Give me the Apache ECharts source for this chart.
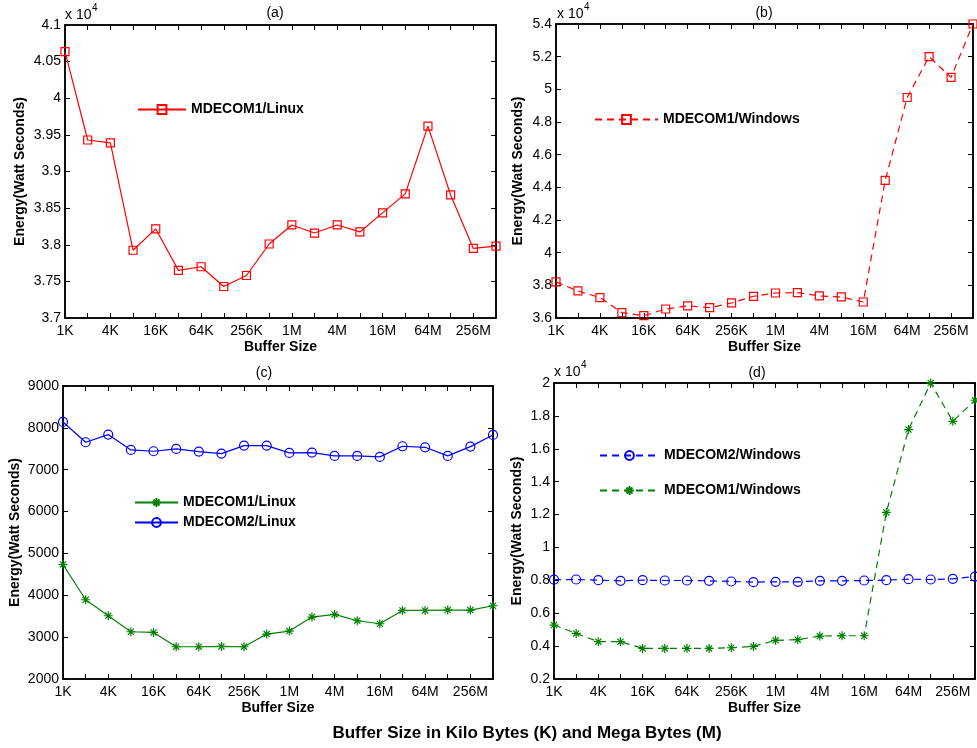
<!DOCTYPE html>
<html>
<head>
<meta charset="utf-8">
<script src="https://cdn.jsdelivr.net/npm/echarts@6/dist/echarts.min.js"></script>
<style>
html,body{margin:0;padding:0;background:#fff;}
#c{width:977px;height:748px;}
</style>
</head>
<body>
<div id="c"></div>
<script>
const categories = ['1K','2K','4K','8K','16K','32K','64K','128K','256K','512K','1M','2M','4M','8M','16M','32M','64M','128M','256M','512M'];

// (a) MDECOM1/Linux (Watt seconds)
const linuxM1a = [40636, 39430, 39390, 37925, 38216, 37650, 37700, 37430, 37580, 38010, 38270, 38160, 38270, 38175, 38435, 38695, 39620, 38680, 37950, 37980];
// (b) MDECOM1/Windows
const winM1b = [38210, 37655, 37250, 36330, 36140, 36550, 36740, 36630, 36920, 37330, 37530, 37550, 37350, 37290, 36980, 44420, 49500, 52000, 50730, 54000];
// (c) Linux
const linuxM1c = [4736, 3893, 3511, 3129, 3113, 2771, 2771, 2779, 2771, 3074, 3145, 3479, 3543, 3392, 3320, 3638, 3638, 3646, 3646, 3750];
const linuxM2c = [8141, 7656, 7839, 7473, 7441, 7497, 7433, 7385, 7576, 7576, 7401, 7409, 7330, 7330, 7306, 7560, 7536, 7330, 7552, 7830];
// (d) Windows
const winM2d = [8047, 8050, 8010, 7970, 8010, 7990, 7990, 7970, 7930, 7890, 7910, 7910, 7970, 7970, 7990, 8010, 8070, 8050, 8090, 8230];
const winM1d = [5280, 4770, 4270, 4270, 3860, 3860, 3860, 3860, 3900, 3980, 4350, 4390, 4610, 4630, 4630, 12130, 17170, 20000, 17670, 18950];

// y-axis ranges per panel
const yMin = [37000, 36000, 2000, 2000];
const yMax = [41000, 54000, 9000, 20000];
const yStep = [500, 2000, 1000, 2000];
const yScaled = [true, true, false, true];
const panelTitles = ['(a)', '(b)', '(c)', '(d)'];
const xName = 'Buffer Size';
const yName = 'Energy(Watt Seconds)';
const bottomTitle = 'Buffer Size in Kilo Bytes (K) and Mega Bytes (M)';

const FONT = '"Liberation Sans", Arial, sans-serif';
const RED = '#ff0000', BLUE = '#0000ff', GREEN = '#008000';
const STAR = 'path://M5 0L5 10M0 5L10 5M1.6 1.6L8.4 8.4M8.4 1.6L1.6 8.4';

const grids = [
  {left: 65, top: 25, width: 431, height: 293},
  {left: 556, top: 24, width: 417, height: 294},
  {left: 63, top: 386, width: 430, height: 293},
  {left: 554, top: 383, width: 421, height: 296}
];
const yNameGap = [38, 31, 41, 30];

const xAxes = [], yAxes = [];
grids.forEach((g, i) => {
  xAxes.push({
    type: 'category', gridIndex: i, data: categories, boundaryGap: false, position: 'bottom',
    axisLine: {show: true, lineStyle: {color: '#000', width: 1.5}},
    axisTick: {show: true, inside: true, length: 5, interval: 0, lineStyle: {color: '#000'}},
    axisLabel: {interval: 1, color: '#000', fontSize: 14, fontFamily: FONT, margin: 6},
    splitLine: {show: false},
    name: xName, nameLocation: 'middle', nameGap: 22,
    nameTextStyle: {color: '#000', fontSize: 14, fontWeight: 'bold', fontFamily: FONT}
  });
  xAxes.push({
    type: 'category', gridIndex: i, data: categories, boundaryGap: false, position: 'top',
    axisLine: {show: true, lineStyle: {color: '#000', width: 1.5}},
    axisTick: {show: true, inside: true, length: 5, interval: 0, lineStyle: {color: '#000'}},
    axisLabel: {show: false}, splitLine: {show: false}
  });
  const fmt = yScaled[i] ? (v => String(parseFloat((v / 1e4).toFixed(3)))) : (v => String(v));
  yAxes.push({
    type: 'value', gridIndex: i, min: yMin[i], max: yMax[i], interval: yStep[i], position: 'left',
    axisLine: {show: true, lineStyle: {color: '#000', width: 1.5}},
    axisTick: {show: true, inside: true, length: 5, lineStyle: {color: '#000'}},
    axisLabel: {color: '#000', fontSize: 14, fontFamily: FONT, margin: 4, formatter: fmt},
    splitLine: {show: false},
    name: yName, nameLocation: 'middle', nameGap: yNameGap[i],
    nameTextStyle: {color: '#000', fontSize: 14, fontWeight: 'bold', fontFamily: FONT}
  });
  yAxes.push({
    type: 'value', gridIndex: i, min: yMin[i], max: yMax[i], interval: yStep[i], position: 'right',
    axisLine: {show: true, lineStyle: {color: '#000', width: 1.5}},
    axisTick: {show: true, inside: true, length: 5, lineStyle: {color: '#000'}},
    axisLabel: {show: false}, splitLine: {show: false}
  });
});

function mkSeries(name, data, gi, color, symbol, size, dashed) {
  return {
    type: 'line', name: name, data: data,
    xAxisIndex: gi * 2, yAxisIndex: gi * 2,
    color: color,
    symbol: symbol, symbolSize: size, showAllSymbol: true,
    lineStyle: {color: color, width: 1.2, type: dashed ? [7, 5] : 'solid'},
    itemStyle: {color: 'rgba(0,0,0,0)', borderColor: color, borderWidth: 1.2},
    emphasis: {disabled: true}, animation: false, z: 3
  };
}

const series = [
  mkSeries('MDECOM1/Linux (a)', linuxM1a, 0, RED, 'rect', 8, false),
  mkSeries('MDECOM1/Windows (b)', winM1b, 1, RED, 'rect', 8, true),
  mkSeries('MDECOM1/Linux (c)', linuxM1c, 2, GREEN, STAR, 9, false),
  mkSeries('MDECOM2/Linux (c)', linuxM2c, 2, BLUE, 'circle', 9, false),
  mkSeries('MDECOM2/Windows (d)', winM2d, 3, BLUE, 'circle', 9, true),
  mkSeries('MDECOM1/Windows (d)', winM1d, 3, GREEN, STAR, 9, true)
];

const legendBase = {
  orient: 'vertical', itemHeight: 11, padding: 0, selectedMode: false,
  textStyle: {color: '#000', fontSize: 14, fontWeight: 'bold', fontFamily: FONT},
  formatter: n => n.replace(/ \(.\)$/, '')
};
const legends = [
  Object.assign({}, legendBase, {left: 137, top: 102.5, itemWidth: 48, data: ['MDECOM1/Linux (a)']}),
  Object.assign({}, legendBase, {left: 594, top: 112.5, itemWidth: 63, data: ['MDECOM1/Windows (b)']}),
  Object.assign({}, legendBase, {left: 134, top: 495.5, itemWidth: 43, itemGap: 6, data: ['MDECOM1/Linux (c)', 'MDECOM2/Linux (c)']}),
  Object.assign({}, legendBase, {left: 599, top: 448.5, itemWidth: 59, itemGap: 21, data: ['MDECOM2/Windows (d)', 'MDECOM1/Windows (d)']})
];

const titlePos = [[275, 13], [764, 13], [264, 373], [757, 373]];
const sciPos = [[65, 15], [557, 14], null, [554, 372]];
const graphics = [];
titlePos.forEach((p, i) => {
  graphics.push({type: 'text', x: p[0], y: p[1], style: {
    text: panelTitles[i], fill: '#000', font: '14px ' + FONT, align: 'center', verticalAlign: 'middle'}});
});
sciPos.forEach(p => {
  if (!p) return;
  graphics.push({type: 'text', x: p[0], y: p[1], style: {
    text: 'x 10', fill: '#000', font: '14px ' + FONT, align: 'left', verticalAlign: 'middle'}});
  graphics.push({type: 'text', x: p[0] + 27, y: p[1] - 7, style: {
    text: '4', fill: '#000', font: '10px ' + FONT, align: 'left', verticalAlign: 'middle'}});
});
graphics.push({type: 'text', x: 527, y: 733, style: {
  text: bottomTitle, fill: '#000', font: 'bold 17px ' + FONT, align: 'center', verticalAlign: 'middle'}});

const chart = echarts.init(document.getElementById('c'), null, {renderer: 'canvas'});
chart.setOption({
  animation: false,
  backgroundColor: '#fff',
  grid: grids.map(g => Object.assign({show: true, borderColor: '#000', borderWidth: 1.5, backgroundColor: '#fff'}, g)),
  xAxis: xAxes,
  yAxis: yAxes,
  legend: legends,
  series: series,
  graphic: graphics
});
</script>
</body>
</html>
